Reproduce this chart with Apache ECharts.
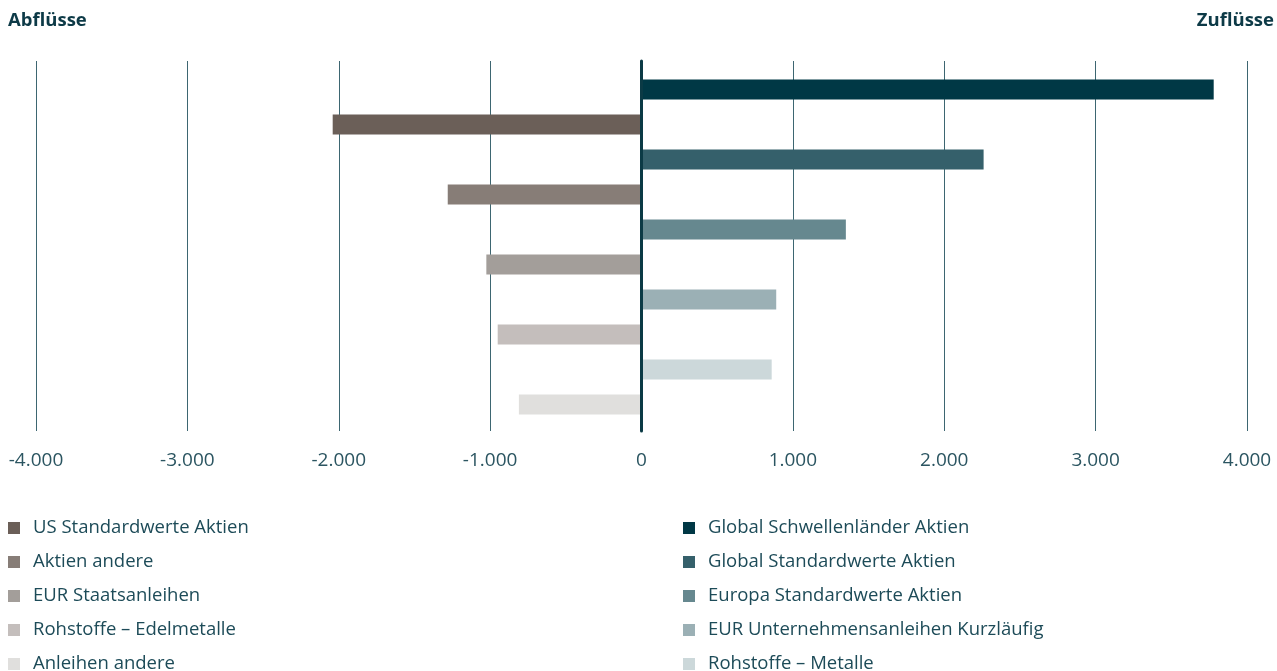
<!DOCTYPE html>
<html><head><meta charset="utf-8">
<script src="https://cdn.jsdelivr.net/npm/echarts@6/dist/echarts.min.js"></script>
<style>html,body{margin:0;padding:0;background:#fff}#c{width:1277px;height:671px}</style>
</head><body><div id="c"></div>
<script>
// Rows from top to bottom
const categories = ['Global Schwellenländer Aktien','US Standardwerte Aktien','Global Standardwerte Aktien','Aktien andere','Europa Standardwerte Aktien','EUR Staatsanleihen','EUR Unternehmensanleihen Kurzläufig','Rohstoffe – Edelmetalle','Rohstoffe – Metalle','Anleihen andere'];
const values = [3780, -2040, 2260, -1280, 1350, -1025, 890, -950, 860, -810];
const colors = ['#003845','#6b5f58','#35606b','#877d77','#66888f','#a39e9a','#9bb0b5','#c4bebc','#ccd8da','#e0dfdd'];
const legendLeft = ['US Standardwerte Aktien','Aktien andere','EUR Staatsanleihen','Rohstoffe – Edelmetalle','Anleihen andere'];
const legendRight = ['Global Schwellenländer Aktien','Global Standardwerte Aktien','Europa Standardwerte Aktien','EUR Unternehmensanleihen Kurzläufig','Rohstoffe – Metalle'];
const tickValues = [-4000,-3000,-2000,-1000,0,1000,2000,3000,4000];
const tickLabels = ['-4.000','-3.000','-2.000','-1.000','0','1.000','2.000','3.000','4.000'];

const FONT = "'Open Sans', 'Noto Sans', sans-serif";
const series = categories.map((name, i) => ({
  name: name,
  type: 'bar',
  xAxisIndex: 0, yAxisIndex: 0,
  barWidth: 20,
  barGap: '-100%',
  z: 3,
  itemStyle: { color: colors[i] },
  data: categories.map((c, j) => j === i ? values[i] : '-')
}));

const legendCommon = {
  orient: 'vertical', top: 518, height: 160, padding: 0,
  itemWidth: 12, itemHeight: 12, itemGap: 14,
  icon: 'rect',
  textStyle: { fontFamily: FONT, fontSize: 18.5, color: '#1d4b58', lineHeight: 20, padding: [0,0,0,8] }
};

const option = {
  animation: false,
  textStyle: { fontFamily: FONT },
  title: [
    { text: 'Abflüsse', left: 8, top: 11, padding: 0, textStyle: { fontFamily: FONT, fontSize: 18.5, fontWeight: 'bold', color: '#0d3a47' } },
    { text: 'Zuflüsse', right: 3, top: 11, padding: 0, textStyle: { fontFamily: FONT, fontSize: 18.5, fontWeight: 'bold', color: '#0d3a47' } }
  ],
  legend: [
    Object.assign({}, legendCommon, { left: 8, data: legendLeft }),
    Object.assign({}, legendCommon, { left: 683, data: legendRight })
  ],
  grid: [
    { left: 36, right: 30, top: 72, height: 350 },
    { left: 36, right: 30, top: 61, height: 370 }
  ],
  xAxis: [
    { gridIndex: 0, type: 'value', min: -4000, max: 4000, interval: 1000, show: false },
    { gridIndex: 1, type: 'value', min: -4000, max: 4000, interval: 1000,
      axisLine: { show: false }, axisTick: { show: false },
      splitLine: { show: true, lineStyle: { color: '#3d6671', width: 1 } },
      axisLabel: { margin: 20, fontFamily: FONT, fontSize: 19, color: '#2b5561',
        formatter: v => { const k = tickValues.indexOf(v); return k >= 0 ? tickLabels[k] : ''; } } }
  ],
  yAxis: [
    { gridIndex: 0, type: 'category', data: categories, inverse: true, show: false },
    { gridIndex: 1, type: 'value', min: 0, max: 1, z: 10,
      axisLine: { show: true, onZero: true, lineStyle: { color: '#0b3a45', width: 3 } },
      axisTick: { show: false }, axisLabel: { show: false }, splitLine: { show: false } }
  ],
  series: series
};
echarts.init(document.getElementById('c')).setOption(option);
</script></body></html>
